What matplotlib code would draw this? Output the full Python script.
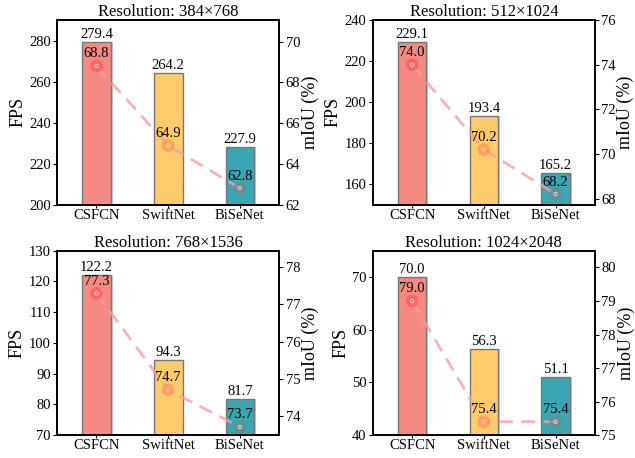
import matplotlib.pyplot as plt
import numpy as np

plt.rcParams['font.family'] = ['Liberation Serif', 'DejaVu Serif']

models = ['CSFCN', 'SwiftNet', 'BiSeNet']
titles = ['Resolution: 384×768', 'Resolution: 512×1024',
          'Resolution: 768×1536', 'Resolution: 1024×2048']

fps = [
    [279.4, 264.2, 227.9],
    [229.1, 193.4, 165.2],
    [122.2, 94.3, 81.7],
    [70.0, 56.3, 51.1],
]
miou = [
    [68.8, 64.9, 62.8],
    [74.0, 70.2, 68.2],
    [77.3, 74.7, 73.7],
    [79.0, 75.4, 75.4],
]

fps_lim = [(200, 290), (150, 240), (70, 130), (40, 75)]
fps_ticks = [np.arange(200, 281, 20), np.arange(160, 241, 20),
             np.arange(70, 131, 10), np.arange(40, 71, 10)]
miou_lim = [(62, 71.05), (67.73, 76), (73.48, 78.45), (75, 80.5)]
miou_ticks = [np.arange(62, 71, 2), np.arange(68, 77, 2),
              np.arange(74, 79, 1), np.arange(75, 81, 1)]

bar_colors = ['#F58A82', '#FFCB6B', '#3AA6B3']
dot_colors = ['#FF5050', '#FF8A4A', '#808080']

fig, axes = plt.subplots(2, 2, figsize=(6.35, 4.58), dpi=100)
plt.subplots_adjust(left=0.0898, right=0.937, top=0.956, bottom=0.05,
                    wspace=0.42, hspace=0.25)

x = np.arange(len(models))
for i, ax in enumerate(axes.flat):
    # shadow, then bars
    ax.bar(x + 0.025, fps[i], width=0.4, color='#d0d0d0', zorder=1)
    ax.bar(x, fps[i], width=0.4, color=bar_colors, edgecolor='#777777',
           linewidth=1.0, zorder=2)
    for xi, v in zip(x, fps[i]):
        ax.text(xi, v + (fps_lim[i][1] - fps_lim[i][0]) * 0.006, f'{v:.1f}',
                ha='center', va='bottom', fontsize=10.5, zorder=5)
    ax.set_ylim(*fps_lim[i])
    ax.set_yticks(fps_ticks[i])
    ax.set_xlim(-0.55, 2.55)
    ax.set_xticks(x)
    ax.set_xticklabels(models)
    ax.set_ylabel('FPS', fontsize=13, labelpad=2)
    ax.set_title(titles[i], fontsize=12, pad=3)
    ax.tick_params(labelsize=10.5, length=3, pad=1.5)
    ax.tick_params(axis='x', length=2, pad=1)

    ax2 = ax.twinx()
    ax2.plot(x, miou[i], linestyle='--', color='#FF9E9E', alpha=0.8,
             linewidth=2, dashes=(5, 3), zorder=3)
    ax2.scatter(x, miou[i], s=85, color=dot_colors, alpha=0.6, zorder=4,
                edgecolors='none')
    ax2.scatter(x, miou[i], s=6, facecolors='none', edgecolors='#ffdddd',
                linewidths=0.6, zorder=4)
    for xi, v in zip(x, miou[i]):
        ax2.annotate(f'{v:.1f}', (xi, v), xytext=(0, 4), textcoords='offset points',
                     ha='center', va='bottom', fontsize=10.5, zorder=5)
    ax2.set_ylim(*miou_lim[i])
    ax2.set_yticks(miou_ticks[i])
    ax2.set_ylabel('mIoU (%)', fontsize=13, labelpad=1)
    ax2.tick_params(labelsize=10.5, length=3, pad=1.5)
    for a in (ax, ax2):
        for s in a.spines.values():
            s.set_linewidth(1.2)

fig.savefig('out.png', dpi=100)
